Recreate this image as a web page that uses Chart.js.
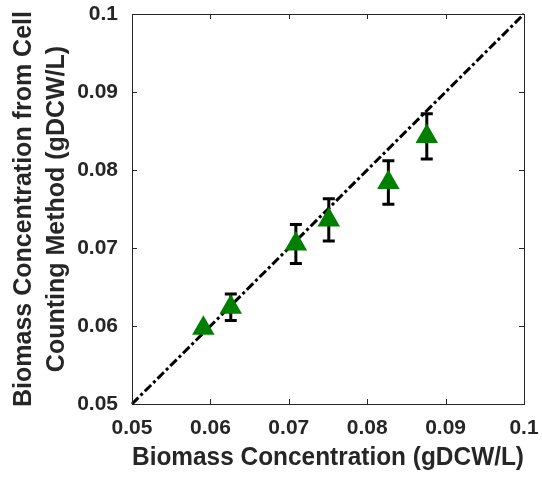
<!DOCTYPE html>
<html lang="en">
<head>
    <meta charset="UTF-8">
    <title>Biomass Concentration Comparison</title>
    <script src="https://cdn.jsdelivr.net/npm/chart.js"></script>
    <style>
        html, body { margin: 0; padding: 0; background: #fff; }
        #wrap { width: 543px; height: 482px; }
    </style>
</head>
<body>
    <div id="wrap"><canvas id="biomassChart" width="543" height="482"></canvas></div>

    <script>
        const refBiomass = [0.0591, 0.0626, 0.0709, 0.0751, 0.0827, 0.0876];
        const cellCountBiomass = [0.0597, 0.0624, 0.0705, 0.0736, 0.0784, 0.0843];
        const cellCountError = [0, 0.0017, 0.0025, 0.0027, 0.0028, 0.0029];

        // 1:1 reference line
        const parityLine = [0.05, 0.1];

        const xTickValues = [0.05, 0.06, 0.07, 0.08, 0.09, 0.1];
        const xTickLabels = ['0.05', '0.06', '0.07', '0.08', '0.09', '0.1'];
        const yTickValues = [0.05, 0.06, 0.07, 0.08, 0.09, 0.1];
        const yTickLabels = ['0.05', '0.06', '0.07', '0.08', '0.09', '0.1'];

        const textColor = '#262626';
        const green = '#008000';
        const fontFamily = '"Liberation Sans", Arial, sans-serif';

        // error bars, drawn under the markers
        const errorBars = {
            id: 'errorBars',
            beforeDatasetsDraw(chart) {
                const ctx = chart.ctx;
                const xs = chart.scales.x, ys = chart.scales.y;
                ctx.save();
                ctx.strokeStyle = '#000';
                ctx.lineWidth = 3;
                refBiomass.forEach((xv, i) => {
                    const e = cellCountError[i];
                    if (!e) return;
                    const px = xs.getPixelForValue(xv);
                    const top = ys.getPixelForValue(cellCountBiomass[i] + e);
                    const bot = ys.getPixelForValue(cellCountBiomass[i] - e);
                    ctx.beginPath();
                    ctx.moveTo(px, top); ctx.lineTo(px, bot);
                    ctx.moveTo(px - 6, top); ctx.lineTo(px + 6, top);
                    ctx.moveTo(px - 6, bot); ctx.lineTo(px + 6, bot);
                    ctx.stroke();
                });
                ctx.restore();
            }
        };

        // box around the axes with inward ticks on all four sides
        const boxTicks = {
            id: 'boxTicks',
            afterDraw(chart) {
                const ctx = chart.ctx;
                const a = chart.chartArea;
                const xs = chart.scales.x, ys = chart.scales.y;
                const len = 5;
                ctx.save();
                ctx.strokeStyle = textColor;
                ctx.lineWidth = 1;
                ctx.strokeRect(Math.round(a.left) + 0.5, Math.round(a.top) + 0.5,
                    Math.round(a.right - a.left), Math.round(a.bottom - a.top));
                ctx.beginPath();
                xTickValues.forEach(v => {
                    const p = Math.round(xs.getPixelForValue(v)) + 0.5;
                    ctx.moveTo(p, a.bottom); ctx.lineTo(p, a.bottom - len);
                    ctx.moveTo(p, a.top); ctx.lineTo(p, a.top + len);
                });
                yTickValues.forEach(v => {
                    const p = Math.round(ys.getPixelForValue(v)) + 0.5;
                    ctx.moveTo(a.left, p); ctx.lineTo(a.left + len, p);
                    ctx.moveTo(a.right, p); ctx.lineTo(a.right - len, p);
                });
                ctx.stroke();
                ctx.restore();
            }
        };

        const ctx = document.getElementById('biomassChart').getContext('2d');
        new Chart(ctx, {
            type: 'scatter',
            data: {
                datasets: [
                    {
                        label: 'Cell counting',
                        data: refBiomass.map((x, i) => ({ x: x, y: cellCountBiomass[i] })),
                        pointStyle: 'triangle',
                        pointRadius: 13,
                        pointBackgroundColor: green,
                        pointBorderColor: green,
                        pointBorderWidth: 0,
                        order: 0
                    },
                    {
                        type: 'line',
                        label: '1:1',
                        data: parityLine.map(v => ({ x: v, y: v })),
                        borderColor: '#000',
                        borderWidth: 3,
                        borderDash: [9, 3, 3, 3],
                        pointRadius: 0,
                        fill: false,
                        clip: false,
                        order: 1
                    }
                ]
            },
            plugins: [errorBars, boxTicks],
            options: {
                responsive: false,
                animation: false,
                layout: { padding: { top: 14, right: 19, left: 0, bottom: 0 } },
                plugins: {
                    legend: { display: false },
                    tooltip: { enabled: false }
                },
                scales: {
                    x: {
                        type: 'linear',
                        min: 0.05,
                        max: 0.1,
                        grid: { display: false, drawTicks: false },
                        border: { display: false },
                        afterBuildTicks: s => { s.ticks = xTickValues.map(v => ({ value: v })); },
                        afterFit: s => {
                            s.height = 78;
                            s.paddingLeft = 0; s.paddingRight = 0;
                        },
                        ticks: {
                            padding: 12,
                            color: textColor,
                            font: { family: fontFamily, size: 21, weight: 'bold' },
                            callback: (v, i) => xTickLabels[i]
                        },
                        title: {
                            display: true,
                            text: 'Biomass Concentration (gDCW/L)',
                            color: textColor,
                            font: { family: fontFamily, size: 25, weight: 'bold' },
                            padding: { top: 0, bottom: 9 }
                        }
                    },
                    y: {
                        type: 'linear',
                        min: 0.05,
                        max: 0.1,
                        grid: { display: false, drawTicks: false },
                        border: { display: false },
                        afterBuildTicks: s => { s.ticks = yTickValues.map(v => ({ value: v })); },
                        afterFit: s => {
                            s.width = 132;
                            s.paddingTop = 0; s.paddingBottom = 0;
                        },
                        ticks: {
                            padding: 14,
                            color: textColor,
                            font: { family: fontFamily, size: 21, weight: 'bold' },
                            callback: (v, i) => yTickLabels[i]
                        },
                        title: {
                            display: true,
                            text: ['Biomass Concentration from Cell', 'Counting Method (gDCW/L)'],
                            color: textColor,
                            font: { family: fontFamily, size: 25, weight: 'bold', lineHeight: 1.3 },
                            padding: { top: 8, bottom: 0 }
                        }
                    }
                }
            }
        });
    </script>
</body>
</html>
